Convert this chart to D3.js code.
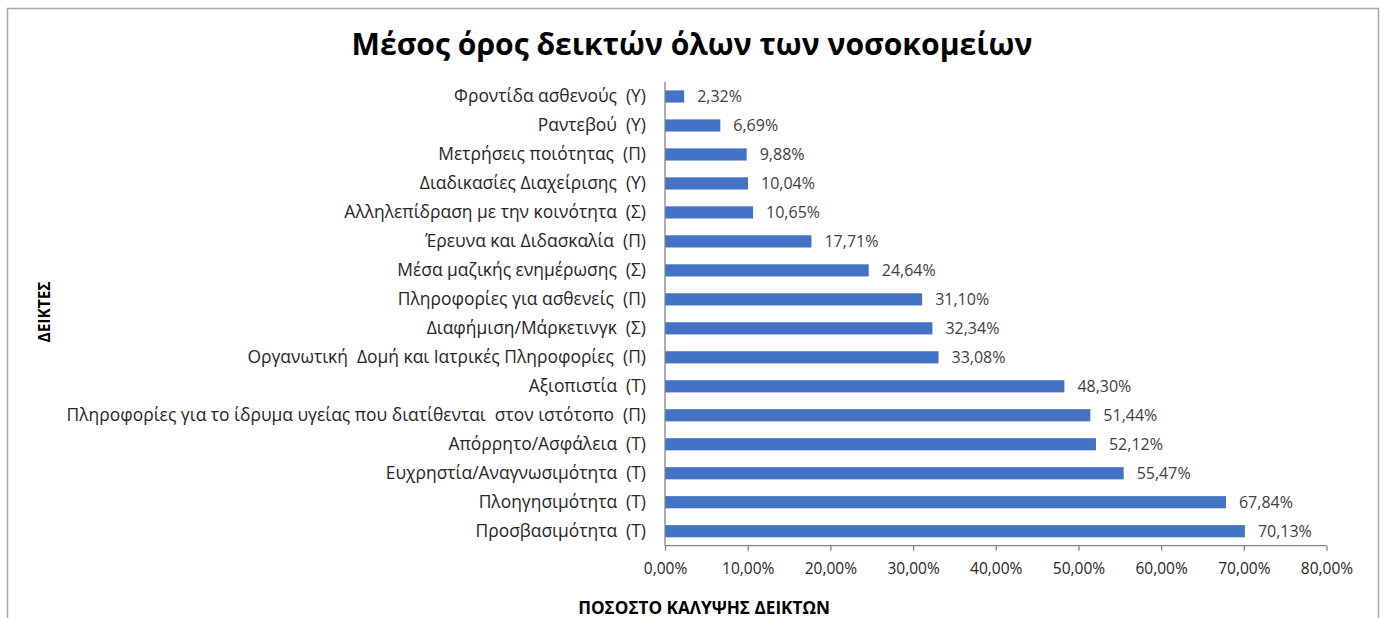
<!DOCTYPE html>
<html><head><meta charset="utf-8">
<script src="https://cdn.jsdelivr.net/npm/d3@7"></script>
<style>body{margin:0;background:#fff;overflow:hidden} text{white-space:pre}</style>
</head><body>
<script>
const title = "Μέσος όρος δεικτών όλων των νοσοκομείων";
const yTitle = "ΔΕΙΚΤΕΣ";
const xTitle = "ΠΟΣΟΣΤΟ ΚΑΛΥΨΗΣ ΔΕΙΚΤΩΝ";
const categories = [
  "Φροντίδα ασθενούς  (Υ)",
  "Ραντεβού  (Υ)",
  "Μετρήσεις ποιότητας  (Π)",
  "Διαδικασίες Διαχείρισης  (Υ)",
  "Αλληλεπίδραση με την κοινότητα  (Σ)",
  "Έρευνα και Διδασκαλία  (Π)",
  "Μέσα μαζικής ενημέρωσης  (Σ)",
  "Πληροφορίες για ασθενείς  (Π)",
  "Διαφήμιση/Μάρκετινγκ  (Σ)",
  "Οργανωτική  Δομή και Ιατρικές Πληροφορίες  (Π)",
  "Αξιοπιστία  (Τ)",
  "Πληροφορίες για το ίδρυμα υγείας που διατίθενται  στον ιστότοπο  (Π)",
  "Απόρρητο/Ασφάλεια  (Τ)",
  "Ευχρηστία/Αναγνωσιμότητα  (Τ)",
  "Πλοηγησιμότητα  (Τ)",
  "Προσβασιμότητα  (Τ)"
];
const values = [2.32, 6.69, 9.88, 10.04, 10.65, 17.71, 24.64, 31.10, 32.34, 33.08, 48.30, 51.44, 52.12, 55.47, 67.84, 70.13];
const xTicks = [0, 10, 20, 30, 40, 50, 60, 70, 80];

const W = 1383, H = 618;
const font = "'Open Sans', 'DejaVu Sans', sans-serif";
const svg = d3.select("body").append("svg").attr("width", W).attr("height", H);

svg.append("rect").attr("x", 7.5).attr("y", 8.5).attr("width", 1371).attr("height", 700)
  .attr("fill", "#fff").attr("stroke", "#a6a6a6").attr("stroke-width", 1.5);

const x = d3.scaleLinear().domain([0, 80]).range([665, 1326.5]);
const y = d3.scaleBand().domain(categories).range([82, 545.7]).paddingInner(0.58).paddingOuter(0.29);

const fmt = v => v.toFixed(2).replace(".", ",") + "%";
function fit(sel, target) {
  const fs = +sel.attr("font-size");
  const w = sel.node().getComputedTextLength();
  sel.attr("font-size", fs * target / w);
}

// title
const t = svg.append("text").attr("x", 692).attr("y", 55).attr("text-anchor", "middle")
  .attr("font-family", font).attr("font-weight", "bold").attr("font-size", 28).attr("fill", "#000").text(title);
fit(t, 681);

// bars
svg.append("g").selectAll("rect").data(values).join("rect")
  .attr("x", x(0)).attr("y", (d, i) => y(categories[i]))
  .attr("width", d => x(d) - x(0)).attr("height", y.bandwidth())
  .attr("fill", "#4472c4");

// data labels
svg.append("g").selectAll("text").data(values).join("text")
  .attr("x", d => x(d) + 13).attr("y", (d, i) => y(categories[i]) + y.bandwidth() / 2)
  .attr("dy", "0.36em").attr("font-family", font).attr("font-size", 16).attr("fill", "#404040")
  .text(fmt);

// y axis
const yAxis = svg.append("g").attr("transform", `translate(${x(0)},0)`)
  .call(d3.axisLeft(y).tickSize(0).tickPadding(19));
yAxis.select(".domain").attr("stroke", "#868686").attr("stroke-width", 1.3).attr("d", `M0,82V545.7`);
const ylabels = yAxis.selectAll("text").attr("font-family", font).attr("font-size", 14).attr("fill", "#262626");
let maxw = 0; ylabels.each(function(){ maxw = Math.max(maxw, this.getComputedTextLength()); });
ylabels.attr("font-size", 14 * 580 / maxw);

// x axis
const xAxis = svg.append("g").attr("transform", `translate(0,545.7)`)
  .call(d3.axisBottom(x).tickValues(xTicks).tickSize(5).tickPadding(12).tickFormat(d => fmt(d)));
xAxis.select(".domain").attr("stroke", "#868686").attr("stroke-width", 1.3).attr("d", `M${x(0)},0H${x(80)}`);
xAxis.selectAll("line").attr("stroke", "#868686").attr("stroke-width", 1.3);
xAxis.selectAll("text").attr("font-family", font).attr("font-size", 15.5).attr("fill", "#262626");

// axis titles
const yt = svg.append("text").attr("transform", "translate(50,312) rotate(-90)").attr("text-anchor", "middle")
  .attr("font-family", font).attr("font-weight", "bold").attr("font-size", 12).attr("fill", "#000").text(yTitle);
fit(yt, 61);
const xt = svg.append("text").attr("x", 704).attr("y", 614).attr("text-anchor", "middle")
  .attr("font-family", font).attr("font-weight", "bold").attr("font-size", 13.5).attr("fill", "#000").text(xTitle);
fit(xt, 252);
</script>
</body></html>
